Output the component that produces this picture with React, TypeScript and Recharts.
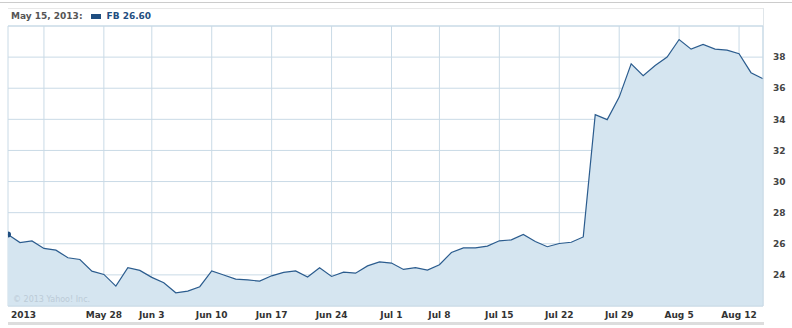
import React from 'react'
import {
  AreaChart, Area, XAxis, YAxis, CartesianGrid, ReferenceLine,
} from 'recharts'

// trading days from May 15 2013 to Aug 14 2013
const closes = [
  26.60, 26.08, 26.18, 25.70, 25.59, 25.10, 24.99, 24.24,
  24.03, 23.28, 24.46, 24.29, 23.84, 23.49, 22.85, 22.96,
  23.24, 24.26, 23.99, 23.73, 23.68, 23.60, 23.94, 24.16,
  24.26, 23.86, 24.46, 23.90, 24.18, 24.11, 24.58, 24.84,
  24.76, 24.35, 24.46, 24.31, 24.65, 25.44, 25.74, 25.74,
  25.85, 26.19, 26.25, 26.60, 26.15, 25.81, 26.02, 26.10,
  26.44, 34.30, 33.98, 35.43, 37.57, 36.80, 37.46, 38.00,
  39.13, 38.51, 38.81, 38.51, 38.45, 38.22, 37.00, 36.61,
]

// index of each gridline and its label
const xTickIdx = [0, 3, 8, 12, 17, 22, 27, 32, 36, 41, 46, 51, 56, 61]
const xTickLabels = ['2013', '', 'May 28', 'Jun 3', 'Jun 10', 'Jun 17', 'Jun 24', 'Jul 1', 'Jul 8', 'Jul 15', 'Jul 22', 'Jul 29', 'Aug 5', 'Aug 12']
const yTicks = [24, 26, 28, 30, 32, 34, 36, 38]

const data = closes.map((v, i) => ({ i, fb: v }))

const FONT = 'Verdana, "DejaVu Sans", sans-serif'
const GRID = '#c9dae6'
const LINE = '#2b5c8e'

function XTick(props: any) {
  const { x, y, payload } = props
  const idx = xTickIdx.indexOf(payload.value)
  const label = xTickLabels[idx] || ''
  if (!label) return null
  const first = idx === 0
  return (
    <text
      x={first ? x + 3 : x} y={y + 4}
      textAnchor={first ? 'start' : 'middle'}
      fontFamily={FONT} fontSize={9} fontWeight="bold" fill="#333"
    >
      {label}
    </text>
  )
}

// only the first point gets a marker, cut at the plot edge
function FirstDot(props: any) {
  const { cx, cy, index } = props
  if (index !== 0) return <g key={index} />
  const r = 3
  return (
    <path
      key={index}
      d={`M${cx},${cy - r} A${r},${r} 0 0 1 ${cx},${cy + r} Z`}
      fill="#1f4e80"
    />
  )
}

export default function App() {
  return (
    <div style={{ position: 'absolute', left: 0, top: 0, width: 792, height: 328, background: '#fff', fontFamily: FONT }}>
      <div style={{ position: 'absolute', left: 0, top: 2, width: 792, height: 1, background: '#cccccc' }} />
      <div style={{ position: 'absolute', left: 8, top: 8, width: 756, height: 1, background: '#e8e8e8' }} />
      <div style={{ position: 'absolute', left: 763, top: 8, width: 1, height: 18, background: '#e0e6ea' }} />
      <div style={{ position: 'absolute', left: 8, top: 322, width: 756, height: 3, background: '#dddddd' }} />
      <div style={{ position: 'absolute', left: 11, top: 10, fontSize: 9, fontWeight: 'bold', color: '#555', whiteSpace: 'nowrap', lineHeight: '12px' }}>
        May 15, 2013:
        <span style={{ display: 'inline-block', width: 10, height: 5, background: '#1f4e80', marginLeft: 9, marginRight: 5, verticalAlign: 'middle' }} />
        <span style={{ color: '#1f4e80' }}>FB 26.60</span>
      </div>
      <AreaChart
        width={792} height={328} data={data}
        margin={{ top: 26, right: 0, bottom: 0, left: 8 }}
        style={{ position: 'absolute', left: 0, top: 0 }}
      >
        <CartesianGrid stroke={GRID} strokeWidth={1} />
        <XAxis
          dataKey="i" type="number" domain={[0, 63]} ticks={xTickIdx}
          tick={<XTick />} tickLine={false} axisLine={{ stroke: GRID }}
          height={22} interval={0} allowDecimals={false}
        />
        <YAxis
          orientation="right" type="number" domain={[22, 40]} ticks={yTicks}
          width={29} tickLine={false} axisLine={false}
          tick={{ fontFamily: FONT, fontSize: 9, fontWeight: 'bold', fill: '#444', textAnchor: 'start' }}
          tickMargin={4} interval={0}
        />
        <ReferenceLine y={40} stroke={GRID} />
        <ReferenceLine x={63} stroke={GRID} />
        <Area
          type="linear" dataKey="fb"
          stroke={LINE} strokeWidth={1.2}
          fill="#d5e5f0" fillOpacity={1}
          dot={<FirstDot />} activeDot={false}
          isAnimationActive={false}
        />
      </AreaChart>
      <div style={{ position: 'absolute', left: 13, top: 295, fontSize: 8, color: '#bccbd7', whiteSpace: 'nowrap', lineHeight: '10px' }}>
        © 2013 Yahoo! Inc.
      </div>
    </div>
  )
}
